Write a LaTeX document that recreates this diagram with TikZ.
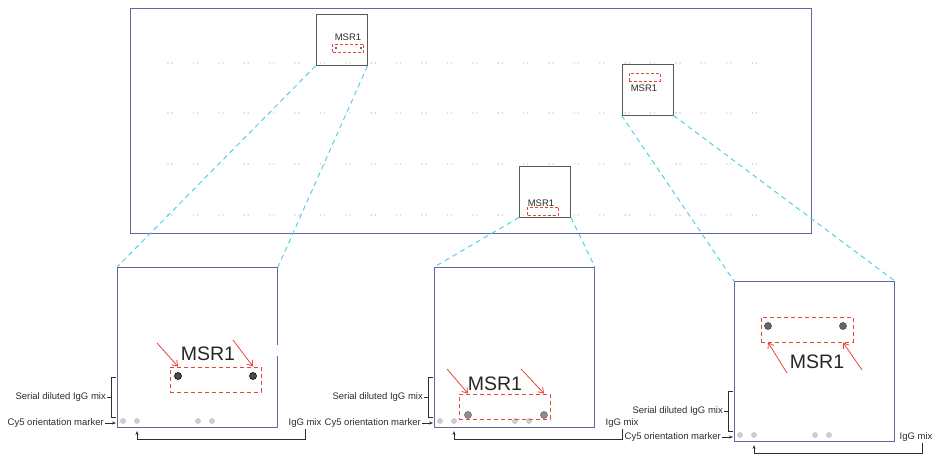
\documentclass[tikz,border=0pt]{standalone}
\usepackage{fontspec}
\setmainfont{Liberation Sans}
\usetikzlibrary{arrows.meta,positioning}
\definecolor{chipframe}{RGB}{100,100,160}
\definecolor{zoomcyan}{RGB}{80,210,228}
\definecolor{msrred}{RGB}{228,70,60}
\definecolor{markergrey}{RGB}{205,205,205}
\definecolor{labelgrey}{RGB}{45,45,45}
\tikzset{
  slide/.style={draw=chipframe,line width=0.9pt,inner sep=0pt,minimum width=160pt,minimum height=160pt},
  zoombox/.style={draw=black!65,line width=0.9pt,inner sep=0pt,minimum width=51pt,minimum height=51pt},
  msrbox/.style={draw=msrred,line width=0.9pt,dash pattern=on 4pt off 3pt,inner sep=0pt},
  msrmini/.style={msrbox,dash pattern=on 3pt off 2pt,minimum width=31pt,minimum height=8pt},
  msrsmall/.style={inner sep=0pt,text=labelgrey,font=\fontsize{9.5}{10}\selectfont},
  msrbig/.style={inner sep=0pt,text=black!85,font=\fontsize{19.5}{22}\selectfont},
  lbl/.style={inner sep=1pt,text=labelgrey,font=\fontsize{9.5}{10}\selectfont},
  tick/.style={draw=labelgrey,line width=0.7pt},
  pointer/.style={tick,-{Stealth[length=4pt,width=3pt]}},
  redarrow/.style={draw=msrred,line width=0.8pt,-{Straight Barb[length=5pt,width=7pt]}},
  zoomline/.style={draw=zoomcyan,line width=1pt,dash pattern=on 5pt off 4pt},
  spot/.style={circle,inner sep=0pt,minimum size=7pt,line width=0.6pt},
}
% one scanned slide: [IgG label offset] name, left x, bottom y
\newcommand{\slidepanel}[4][188]{
  \node[slide,anchor=south west] (#2) at (#3,#4) {};
  \foreach \dx in {6,20,81,95}
    \fill[markergrey] (#3+\dx,#4-7) circle (3pt);
  \draw[tick] (#3-1,#4-51) -- (#3-6,#4-51) -- (#3-6,#4-11) -- (#3-1,#4-11);
  \node[lbl,anchor=east] (#2-ser) at (#3-10,#4-31) {Serial diluted IgG mix};
  \draw[tick] (#2-ser) -- (#3-6,#4-31);
  \node[lbl,anchor=east] (#2-cy) at (#3-12,#4-5) {Cy5 orientation marker};
  \draw[pointer] (#2-cy) -- (#3-1,#4-5);
  \node[lbl] (#2-igg) at (#3+#1,#4-5) {IgG mix};
  \draw[pointer] (#2-igg.south -| #3+188,0) -- (#3+188,#4+11) -| (#3+20,#4+3);
}

\begin{document}
\begin{tikzpicture}[x=1pt,y=-1pt]
  \useasboundingbox (0,0) rectangle (934,454);
  % whole array
  \draw[chipframe,line width=0.9pt] (130,8) rectangle (811,233);
  \foreach \row in {63,113,164,215}
    \foreach \col in {0,...,23}
      \fill[black!20] (168+25.4*\col,\row) circle (0.8pt) ++(4,0) circle (0.8pt);
  \node[zoombox] (za) at (341.5,40) {};
  \node[zoombox] (zb) at (647.5,89.5) {};
  \node[zoombox] (zc) at (545,191.5) {};
  \node[msrsmall] (za-t) at (348,37) {MSR1};
  \node[msrmini] (za-r) at (348,48.5) {};
  \fill[black!80] (336,48) circle (1.1pt) (361,48) circle (1.1pt);
  \node[msrmini] (zb-r) at (644.5,77.5) {};
  \node[msrsmall] (zb-t) at (644,88) {MSR1};
  \node[msrmini] (zc-r) at (543,211) {};
  \node[msrsmall] (zc-t) at (541,203) {MSR1};
  % zoomed slides
  \slidepanel{pa}{117}{428}
  \slidepanel{pb}{434}{428}
  \slidepanel[182]{pc}{734}{442}
  \draw[zoomline] (za.south west) -- (pa.north west);
  \draw[zoomline] (za.south east) -- (pa.north east);
  \draw[zoomline] (zc.south west) -- (pb.north west);
  \draw[zoomline] (zc.south east) -- (pb.north east);
  \draw[zoomline] (zb.south west) -- (pc.north west);
  \draw[zoomline] (zb.south east) -- (pc.north east);
  % slide a
  \fill[white] (274,345) rectangle (279,356);
  \node[msrbox,minimum width=91pt,minimum height=25pt] (pa-r) at (215.5,379.5) {};
  \node[spot,fill=black!70,draw=black] (pa-d1) at (178,376) {};
  \node[spot,fill=black!70,draw=black] (pa-d2) at (253,376) {};
  \node[msrbig] (pa-t) at (208,354) {MSR1};
  \coordinate (pa-a1) at (157,343);
  \coordinate (pa-a2) at (233,340);
  \draw[redarrow] (pa-a1) -- (pa-d1 |- pa-r.north);
  \draw[redarrow] (pa-a2) -- (pa-d2 |- pa-r.north);
  % slide b
  \node[msrbox,minimum width=91pt,minimum height=25pt] (pb-r) at (504.5,406.5) {};
  \node[spot,fill=black!45,draw=black!55] (pb-d1) at (468,415) {};
  \node[spot,fill=black!45,draw=black!55] (pb-d2) at (544,415) {};
  \node[msrbig] (pb-t) at (495,384) {MSR1};
  \coordinate (pb-a1) at (447,369);
  \coordinate (pb-a2) at (521,369);
  \draw[redarrow] (pb-a1) -- (pb-d1 |- pb-r.north);
  \draw[redarrow] (pb-a2) -- (pb-d2 |- pb-r.north);
  % slide c
  \node[msrbox,minimum width=92pt,minimum height=25pt] (pc-r) at (807,329.5) {};
  \node[spot,fill=black!60,draw=black!70] (pc-d1) at (768,326) {};
  \node[spot,fill=black!60,draw=black!70] (pc-d2) at (843,326) {};
  \node[msrbig] (pc-t) at (817,362) {MSR1};
  \coordinate (pc-a1) at (787,373);
  \coordinate (pc-a2) at (862,370);
  \draw[redarrow] (pc-a1) -- (pc-d1 |- pc-r.south);
  \draw[redarrow] (pc-a2) -- (pc-d2 |- pc-r.south);
\end{tikzpicture}
\end{document}
